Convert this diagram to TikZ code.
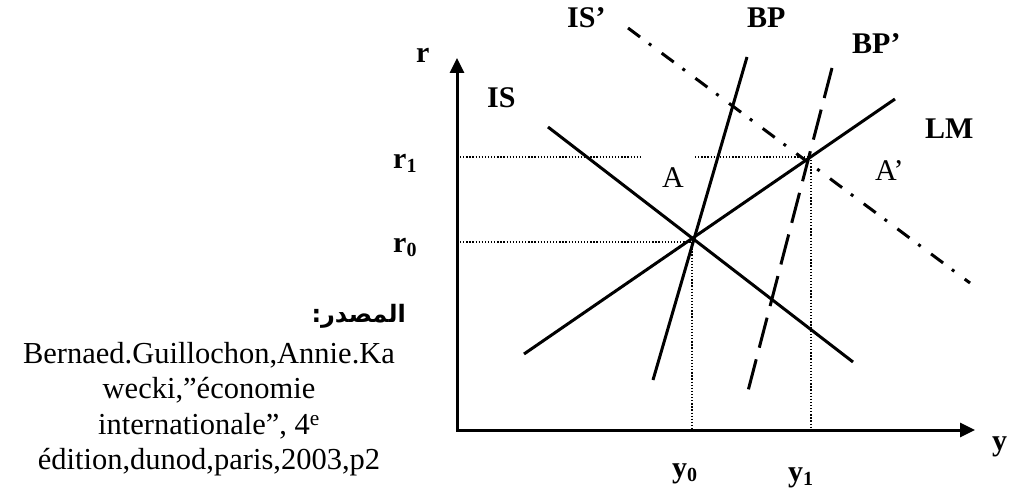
\documentclass[tikz,border=0pt]{standalone}
\usepackage{fontspec}
\setmainfont{Liberation Serif}
\newfontfamily\arabicfont[Script=Arabic]{DejaVu Sans}
\TeXXeTstate=1
\usetikzlibrary{arrows.meta}
\tikzset{
  curve/.style={line width=3pt},
  guide/.style={line width=1.4pt, dash pattern=on 1.3pt off 1.8pt},
  lbl/.style={inner sep=0pt, anchor=base west, font=\fontsize{30}{36}\selectfont\bfseries},
  plainlbl/.style={inner sep=0pt, anchor=base west, font=\fontsize{30}{36}\selectfont},
  axisline/.style={line width=3pt, {Triangle[length=15pt,width=14pt]}-{Triangle[length=15pt,width=14pt]}}
}
\newcommand{\subs}[1]{\raisebox{-4pt}{\fontsize{20}{20}\selectfont #1}}
\begin{document}
\begin{tikzpicture}[x=1pt,y=-1pt]
\useasboundingbox (0,0) rectangle (1009,495);
% key points
\coordinate (O) at (457,430);
\coordinate (rtop) at (457,58);
\coordinate (yend) at (975,430);
\coordinate (A) at (693,242);
\coordinate (Ap) at (809,157);
% axes
\draw[axisline] (rtop) -- (O) -- (yend);
% guides
\coordinate (r1a) at (460,157);
\coordinate (r1b) at (640,157);
\coordinate (r1c) at (695,157);
\coordinate (r0a) at (460,242);
\coordinate (y0b) at (692,430);
\coordinate (y0t) at (692,242);
\coordinate (y1t) at (811,160);
\coordinate (y1b) at (811,430);
\draw[guide] (r1a) -- (r1b);
\draw[guide] (r1c) -- (Ap);
\draw[guide] (r0a) -- (A);
\draw[guide] (y0t) -- (y0b);
\draw[guide] (y1t) -- (y1b);
% curves
\coordinate (IS1) at (548,127);
\coordinate (IS2) at (853,362);
\coordinate (LM1) at (524,354);
\coordinate (LM2) at (895,99);
\coordinate (BP1) at (747,57);
\coordinate (BP2) at (653,380);
\coordinate (BPp1) at (832,68);
\coordinate (BPp2) at (748,391);
\coordinate (ISp1) at (628,28);
\coordinate (ISp2) at (970,283);
\draw[curve] (IS1) -- (IS2);
\draw[curve] (LM1) -- (LM2);
\draw[curve] (BP1) -- (BP2);
\draw[curve, dash pattern=on 31pt off 12pt] (BPp1) -- (BPp2);
\draw[curve, dash pattern=on 15pt off 11pt on 3pt off 13pt] (ISp1) -- (ISp2);
% labels
\node[lbl] (lISp) at (567,28) {IS’};
\node[lbl] (lBP) at (747,28) {BP};
\node[lbl] (lBPp) at (852,53) {BP’};
\node[lbl] (lLM) at (925,138) {LM};
\node[plainlbl] (lAp) at (875,180) {A’};
\node[plainlbl] (lA) at (662,187) {A};
\node[lbl] (lr) at (416,63) {r};
\node[lbl] (lIS) at (487,107) {IS};
\node[lbl] (lr1) at (393,168) {r\subs{1}};
\node[lbl] (lr0) at (393,252) {r\subs{0}};
\node[lbl] (ly0) at (672,477) {y\subs{0}};
\node[lbl] (ly1) at (788,481) {y\subs{1}};
\node[lbl] (ly) at (992,450) {y};
% source
\node[inner sep=0pt, anchor=base east, font=\fontsize{24}{28}\selectfont\bfseries] (ar) at (406,322) {\arabicfont\beginR المصدر:\endR};
\node[inner sep=0pt, anchor=north, align=center, font=\fontsize{30.5}{35.5}\selectfont] (src) at (209,342)
 {Bernaed.Guillochon,Annie.Ka\\ wecki,”économie\\ internationale”, 4\textsuperscript{e}\\ édition,dunod,paris,2003,p2};
\end{tikzpicture}
\end{document}
